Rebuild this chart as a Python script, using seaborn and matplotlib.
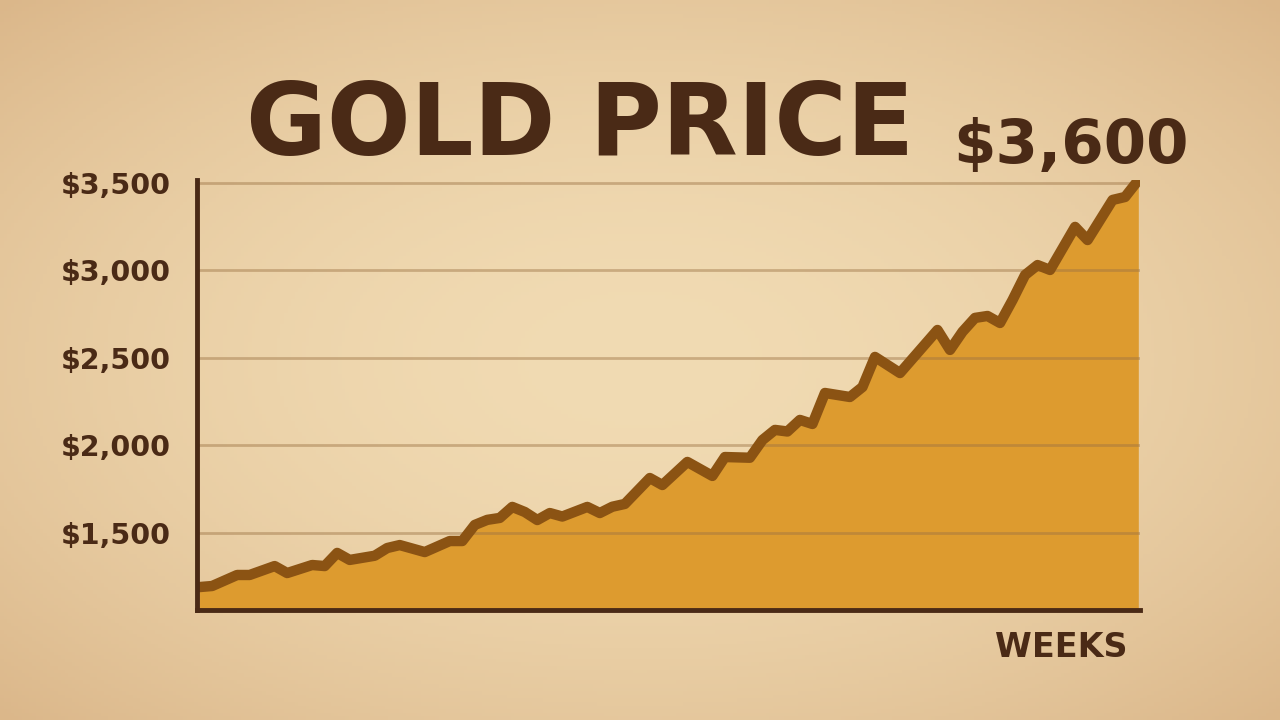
import matplotlib
matplotlib.use("Agg")
import matplotlib.pyplot as plt
import seaborn as sns
import pandas as pd
import numpy as np

# data (week index, price in USD)
weeks = [0, 1, 3, 4, 6, 7, 9, 10, 11, 12, 14, 15, 16, 18, 20, 21, 22, 23, 24, 25,
         26, 27, 28, 29, 31, 32, 33, 34, 36, 37, 39, 41, 42, 44, 45, 46, 47, 48, 49, 50,
         52, 53, 54, 56, 59, 60, 61, 62, 63, 64, 65, 66, 67, 68, 70, 71, 73, 74, 75]
prices = [1191, 1197, 1260, 1260, 1311, 1271, 1317, 1311, 1386, 1346, 1370, 1414, 1431, 1391, 1454, 1454, 1546, 1575, 1586, 1649,
          1620, 1574, 1614, 1594, 1649, 1614, 1650, 1666, 1814, 1774, 1906, 1826, 1934, 1930, 2031, 2089, 2080, 2146, 2123, 2300,
          2277, 2334, 2506, 2414, 2660, 2546, 2650, 2729, 2740, 2700, 2831, 2974, 3031, 3003, 3249, 3174, 3403, 3420, 3511]
ytick_vals = [1500, 2000, 2500, 3000, 3500]
ytick_labels = ["$1,500", "$2,000", "$2,500", "$3,000", "$3,500"]
title = "GOLD PRICE"
latest_label = "$3,600"
x_label = "WEEKS"

df = pd.DataFrame({"week": weeks, "price": prices})

brown = "#4a2a16"
line_col = "#8b5313"
fill_col = "#dd9b2f"
grid_col = "#9c7344"

sns.set_style("white")
plt.rcParams['font.family'] = ['DejaVu Sans']

fig = plt.figure(figsize=(12.8, 7.2), dpi=100)

# parchment background with a soft vignette
bg = fig.add_axes([0, 0, 1, 1], zorder=-10)
yy, xx = np.mgrid[-1:1:200j, -1:1:356j]
r = np.clip(np.sqrt(xx**2 + yy**2) / 1.414, 0, 1)
c0 = np.array([0xf1, 0xdb, 0xb3]) / 255
c1 = np.array([0xdb, 0xb7, 0x8a]) / 255
img = c0[None, None, :] * (1 - r[..., None] ** 1.8) + c1[None, None, :] * (r[..., None] ** 1.8)
bg.imshow(img, aspect="auto", extent=[0, 1, 0, 1])
bg.axis("off")

ax = fig.add_axes([0.154, 0.1528, 0.7367, 0.5972])
ax.patch.set_alpha(0)

ax.fill_between(df["week"], df["price"], 1000, color=fill_col, zorder=1)
for v in ytick_vals:
    ax.axhline(v, color=grid_col, lw=2, alpha=0.45, zorder=2)
sns.lineplot(data=df, x="week", y="price", ax=ax, color=line_col, lw=7.5,
             solid_joinstyle="round", solid_capstyle="round", zorder=3)

ax.set_xlim(-0.2, 75.2)
ax.set_ylim(1060, 3517)
ax.set_yticks(ytick_vals)
ax.set_yticklabels(ytick_labels)
ax.set_xticks([])
ax.set_xlabel("")
ax.set_ylabel("")
ax.tick_params(axis="y", length=0, pad=19, labelsize=20.5, labelcolor=brown)
for lab in ax.get_yticklabels():
    lab.set_fontweight("bold")
for s in ["top", "right"]:
    ax.spines[s].set_visible(False)
for s in ["left", "bottom"]:
    ax.spines[s].set_color(brown)
    ax.spines[s].set_linewidth(3.5)
    ax.spines[s].set_zorder(5)

fig.text(0.453, 0.785, title, ha="center", va="baseline", fontsize=71,
         fontweight="bold", color=brown)
fig.text(0.7445, 0.774, latest_label, ha="left", va="baseline", fontsize=44,
         fontweight="bold", color=brown)
fig.text(0.881, 0.0875, x_label, ha="right", va="baseline", fontsize=24,
         fontweight="bold", color=brown)

plt.savefig("out.png", dpi=100)
